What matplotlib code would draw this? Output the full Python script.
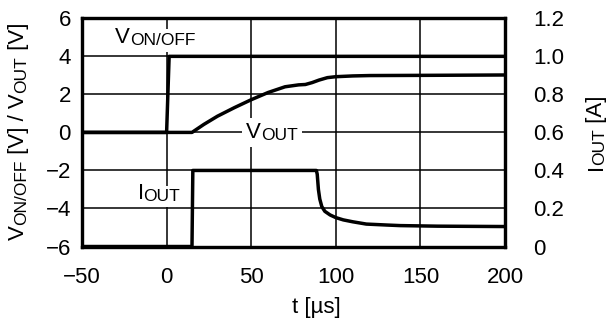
import matplotlib
matplotlib.use('Agg')
import matplotlib.pyplot as plt

plt.rcParams['font.family'] = ['Liberation Sans', 'DejaVu Sans']

# V_ON/OFF step [us, V]
von_t = [-50, 0, 1.5, 200]
von_v = [0, 0, 4, 4]

# V_OUT ramp [us, V]
vout_t = [-50, 15, 22, 30, 40, 50, 60, 70, 78, 82, 86, 90, 95, 100, 110, 120, 150, 200]
vout_v = [0, 0, 0.42, 0.85, 1.3, 1.72, 2.1, 2.4, 2.5, 2.52, 2.62, 2.75, 2.88, 2.93, 2.97, 2.99, 3.0, 3.02]

# I_OUT [us, A]
iout_t = [-50, 15, 15.5, 88.5, 89, 89.7, 90.5, 91.7, 93.5, 96.6, 100, 104.4, 110, 118, 130, 138, 160, 200]
iout_a = [0, 0, 0.4, 0.4, 0.38, 0.3, 0.25, 0.21, 0.185, 0.166, 0.152, 0.14, 0.13, 0.118, 0.113, 0.11, 0.107, 0.105]

x_ticks = [-50, 0, 50, 100, 150, 200]
v_ticks = [-6, -4, -2, 0, 2, 4, 6]
i_ticks = [0, 0.2, 0.4, 0.6, 0.8, 1.0, 1.2]
i_labels = ['0', '0.2', '0.4', '0.6', '0.8', '1.0', '1.2']

BIG = 16
SMALL = 12.5
LW = 2.5


def label(ax, x, y, parts, white, pad=3):
    # text made of pieces of two sizes (small caps subscripts)
    if white:
        style = dict(color='white', zorder=4,
                     bbox=dict(fc='white', ec='none', pad=pad))
    else:
        style = dict(color='black', zorder=5)
    txt = ax.text(x, y, parts[0][0], fontsize=parts[0][1],
                  ha='left', va='baseline', **style)
    kern = -1 if parts[0][0] == 'I' else 0
    for s, size in parts[1:]:
        txt = ax.annotate(s, xy=(1, 0), xycoords=txt, fontsize=size,
                          xytext=(kern, 0), textcoords='offset points',
                          ha='left', va='bottom', annotation_clip=False, **style)
        kern = 0


def vlabel(fig, ax, x, y, parts):
    txt = fig.text(x, y, parts[0][0], fontsize=parts[0][1], rotation=90,
                   ha='right', va='bottom')
    kern = -1 if parts[0][0] == 'I' else 0
    for s, size in parts[1:]:
        txt = ax.annotate(s, xy=(1, 1), xycoords=txt, fontsize=size, rotation=90,
                          xytext=(0, kern), textcoords='offset points',
                          ha='right', va='bottom', annotation_clip=False)
        kern = 0


fig = plt.figure(figsize=(6.1, 3.23), dpi=100)
ax = fig.add_axes([0.1344, 0.2368, 0.6936, 0.7065])
ax2 = ax.twinx()

ax.set_axisbelow(True)
ax.grid(color='black', linewidth=1.1)

ax.plot(von_t, von_v, color='black', linewidth=LW, zorder=3)
ax.plot(vout_t, vout_v, color='black', linewidth=LW, zorder=3)
ax2.plot(iout_t, iout_a, color='black', linewidth=LW, zorder=3)

ax.set_xlim(-50, 200)
ax.set_ylim(-6, 6)
ax2.set_ylim(0, 1.2)
ax.set_xticks(x_ticks)
ax.set_yticks(v_ticks)
ax2.set_yticks(i_ticks, i_labels)

ax.tick_params(axis='y', length=0, pad=8, labelsize=BIG)
ax.tick_params(axis='x', length=0, pad=14.5, labelsize=BIG)
ax2.tick_params(axis='y', length=0, pad=20, labelsize=BIG)

for a in (ax, ax2):
    for sp in a.spines.values():
        sp.set_linewidth(2.3)

# in-plot labels: white pass hides the grid, black pass draws the text
for white in (True, False):
    label(ax, -30.5, 4.69, [('V', BIG), ('ON/OFF', SMALL)], white)
    label(ax, 46.9, -0.28, [('V', BIG), ('OUT', SMALL)], white)
    label(ax, -16.9, -3.49, [('I', BIG), ('OUT', SMALL)], white, pad=2)

fig.text(316 / 610, 1 - 308 / 323, 't [µs]', fontsize=BIG, ha='center', va='center')
vlabel(fig, ax, 29 / 610, 1 - 240 / 323,
       [('V', BIG), ('ON/OFF', SMALL), (' [V] / V', BIG), ('OUT', SMALL), (' [V]', BIG)])
vlabel(fig, ax, 607 / 610, 1 - 170 / 323, [('I', BIG), ('OUT', SMALL), (' [A]', BIG)])

fig.savefig('out.png', dpi=100)
